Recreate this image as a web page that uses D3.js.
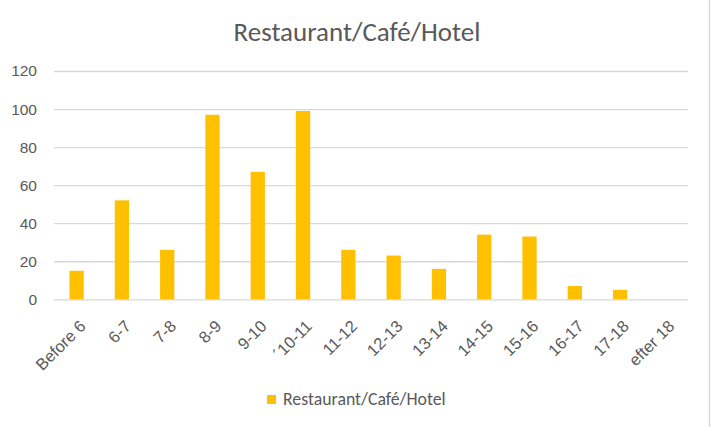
<!DOCTYPE html>
<html><head><meta charset="utf-8">
<script src="https://cdn.jsdelivr.net/npm/d3@7"></script>
<style>body{margin:0;background:#fff;font-family:Carlito,Lato,"Open Sans",sans-serif;}</style>
</head><body><svg id="c" width="718" height="427"></svg>
<script>
const categories = ["Before 6","6-7","7-8","8-9","9-10","´10-11","11-12","12-13","13-14","14-15","15-16","16-17","17-18","efter 18"];
const values = [15,52,26,97,67,99,26,23,16,34,33,7,5,0];
const yTicks = [0,20,40,60,80,100,120];
const seriesName = "Restaurant/Café/Hotel";
const title = "Restaurant/Café/Hotel";

const svg = d3.select("#c");
const m = {left:54, right:688, top:71, bottom:299.3};
const x = d3.scaleBand().domain(categories).range([m.left, m.right]).paddingInner(0.685).paddingOuter(0.342);
const y = d3.scaleLinear().domain([0,120]).range([m.bottom, m.top]);
const txt = "#595959";

svg.append("rect").attr("width",718).attr("height",427).attr("fill","#fff");
svg.append("line").attr("x1",709.5).attr("x2",709.5).attr("y1",0).attr("y2",427).attr("stroke","#d9d9d9").attr("stroke-width",1.5);

svg.append("text").attr("x",357).attr("y",41).attr("text-anchor","middle")
  .attr("font-size",27).attr("fill",txt).text(title);

const yAxis = d3.axisLeft(y).tickValues(yTicks).tickSize(-(m.right-m.left)).tickPadding(17);
const gy = svg.append("g").attr("transform",`translate(${m.left},0)`).call(yAxis);
gy.select(".domain").remove();
gy.selectAll(".tick line").attr("stroke","#d9d9d9").attr("stroke-width",1.3);
gy.selectAll(".tick text").attr("fill",txt).attr("font-size",15.5).attr("font-family","inherit");

svg.append("g").selectAll("rect").data(values).join("rect")
  .attr("x",(d,i)=>x(categories[i])).attr("width",x.bandwidth())
  .attr("y",d=>y(d)).attr("height",d=>y(0)-y(d)).attr("fill","#FFC000");

const xAxis = d3.axisBottom(x).tickSize(0).tickPadding(0);
const gx = svg.append("g").attr("transform",`translate(0,${m.bottom})`).call(xAxis);
gx.select(".domain").remove();
gx.selectAll(".tick text").attr("fill",txt).attr("font-size",16.5).attr("font-family","inherit")
  .attr("text-anchor","end").attr("dy",0).attr("y",0)
  .attr("transform","translate(10,28) rotate(-45)");

const lg = svg.append("g");
lg.append("rect").attr("x",267).attr("y",395).attr("width",9).attr("height",9).attr("fill","#FFC000");
lg.append("text").attr("x",283).attr("y",405).attr("font-size",17.8).attr("fill",txt).text(seriesName);
</script></body></html>
